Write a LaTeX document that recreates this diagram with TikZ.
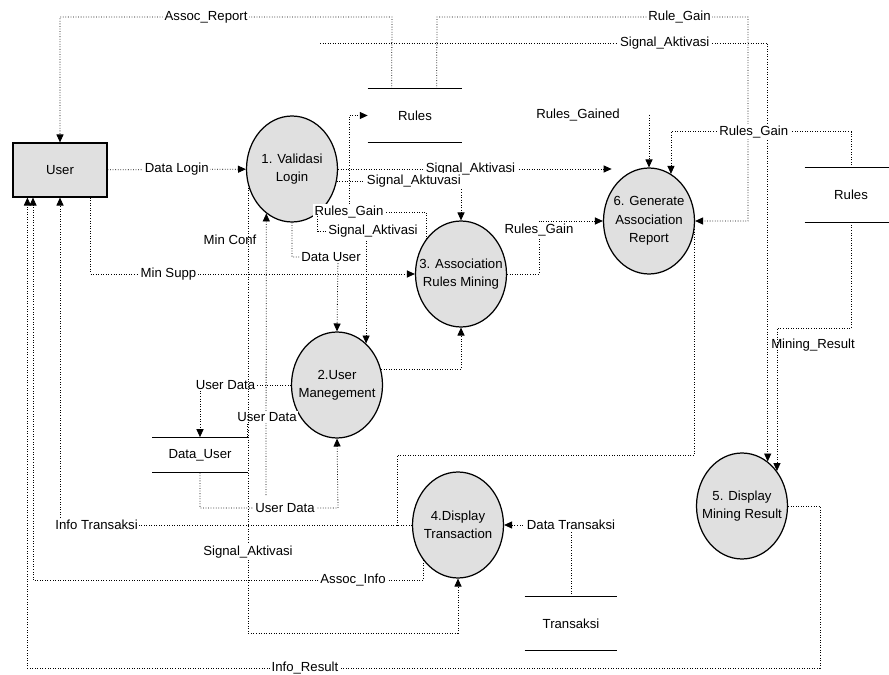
\documentclass[tikz,border=0pt]{standalone}
\usepackage{fontspec}
\setmainfont{Liberation Sans}
\usetikzlibrary{shapes.geometric,arrows.meta,calc}

\begin{document}
\begin{tikzpicture}[x=0.02cm,y=-0.02cm,
        font=\fontsize{7.5}{10.5}\selectfont,
        proc/.style={draw, ellipse, line width=0.7pt, fill=black!12, minimum width=1.82cm, minimum height=2.12cm, inner sep=0pt},
        ptext/.style={align=center, inner sep=0pt},
        ext/.style={draw, line width=0.7pt, fill=black!12, minimum width=1.88cm, minimum height=1.08cm, inner sep=0pt},
        store/.style={inner sep=0pt},
        flow/.style={densely dotted, line width=0.45pt, -{Triangle[length=4.5pt,width=4pt]}},
        link/.style={densely dotted, line width=0.45pt},
        lbl/.style={fill=white, inner sep=1pt}]
        \useasboundingbox (0,0) rectangle (889,675);

        % entity and processes
        \node[ext] (user) at (60,170) {User};
        \node[proc, label={[ptext]center:{1. Validasi\\Login}}] (p1) at (292,169) {};
        \node[proc, label={[ptext]center:{2.User\\Manegement}}] (p2) at (337,385) {};
        \node[proc, label={[ptext]center:{3. Association\\Rules Mining}}] (p3) at (461,274) {};
        \node[proc, label={[ptext]center:{4.Display\\Transaction}}] (p4) at (458,525) {};
        \node[proc, label={[ptext]center:{5. Display\\Mining Result}}] (p5) at (742,506) {};
        \node[proc, label={[ptext]center:{6. Generate\\Association\\Report}}] (p6) at (649,221) {};

        % data stores
        \node[store, minimum width=1.88cm, minimum height=1.06cm] (rules1) at (415,115.5) {Rules};
        \node[store, minimum width=1.84cm, minimum height=1.08cm] (rules2) at (851,195) {Rules};
        \node[store, minimum width=1.9cm, minimum height=0.7cm] (datauser) at (200,455) {Data\_User};
        \node[store, minimum width=1.84cm, minimum height=1.06cm] (transaksi) at (571,623.5) {Transaksi};
        \foreach \s in {rules1,rules2,datauser,transaksi}
            \draw[line width=0.7pt] (\s.north west) -- (\s.north east) (\s.south west) -- (\s.south east);

        \coordinate (ar) at ($(rules1.north west)+(24,0)$);
        \coordinate (rg) at ($(rules1.north west)+(69,0)$);
        \coordinate (sa) at (320,43);
        \coordinate (rgd) at (649,115);
        \coordinate (du) at (338,257);
        \coordinate (mc) at (266,495);
        \coordinate (ms) at ($(user.south east)+(-17,0)$);
        \coordinate (ai) at (33,580);
        \coordinate (ir) at (820,668);

        % flows
        \path[draw,flow] (user) -- node[lbl] {Data Login} (p1);
        \path[draw,flow] (ar) -- (392,17) -| node[lbl,pos=0.28] {Assoc\_Report} (user.north);
        \path[draw,flow] (rg) -- (437,17) -| node[lbl,pos=0.39] {Rule\_Gain} (748,221) -- (p6.east);
        \path[draw,flow] (sa) -| node[lbl,pos=0.385] {Signal\_Aktivasi} (p5.60);
        \path[draw,flow] (rgd) -- (p6.north);
        \node (rgdl) at (578,115) {Rules\_Gained};
        \path[draw,flow] (rules2.north) -- ++(0,-36) -| node[lbl,pos=0.27] {Rules\_Gain} (p6.65);
        \path[draw,flow] (rules2.south) -- ++(0,106) -| (p5.45);
        \node (mrl) at (813,345) {Mining\_Result};

        \path[draw,flow] (p1.east) -- node[lbl,pos=0.484] {Signal\_Aktivasi} (p1.east -| p6.140);
        \path[draw,flow] (p1.-15) -| node[lbl,pos=0.31] {Signal\_Aktuvasi} (p3.north);
        \path[draw,flow] (p3.135) |- (349,212) |- (rules1.west);
        \node[lbl] (rgl) at (349,212) {Rules\_Gain};
        \path[draw,flow] (p1.-60) |- ++(50,18) -| (p2.55);
        \node[lbl] (sal) at (373,231) {Signal\_Aktivasi};
        \path[draw,flow] (p1.south) |- (du) -- (p2.north);
        \node[lbl] (dul) at (331,257) {Data User};
        \path[draw,flow] (mc) -- (p1.-120);
        \node (mcl) at (230,240) {Min Conf};
        \path[draw,flow] (ms) |- node[lbl,pos=0.62] {Min Supp} (p3.west);
        \path[draw,flow] (p3.east) -- (539,274) |- node[lbl,pos=0.415] {Rules\_Gain} (p6.west);

        \path[draw,flow] (p2.west) -| node[lbl,pos=0.36] {User Data} (datauser.north);
        \path[draw,link] (datauser.north east) |- (p2.-145);
        \node[lbl] (ud2) at (267,417) {User Data};
        \path[draw,flow] (datauser.south) |- (338,508) -- (p2.south);
        \node[lbl] (ud3) at (285,508) {User Data};
        \path[draw,flow] (p2.20) -| (p3.south);
        \path[draw,link] (p6.-10) |- (397,455) -- (397,526);

        \path[draw,flow] (p4.west) -| node[lbl,pos=0.448] {Info Transaksi} (user.south);
        \path[draw,flow] (transaksi.north) |- node[lbl,pos=0.5] {Data Transaksi} (p4.east);
        \path[draw,flow] (p1.-160) -- ++(0,448) -| (p4.south);
        \node[lbl] (sa4) at (248,552) {Signal\_Aktivasi};
        \path[draw,flow] (p4.-135) |- (ai) -- (ai |- user.south);
        \node[lbl] (ail) at (353,580) {Assoc\_Info};
        \path[draw,flow] (p5.east) -| (ir) -| ($(user.south west)+(15,0)$);
        \node[lbl] (irl) at (305,668) {Info\_Result};
    \end{tikzpicture}
\end{document}
